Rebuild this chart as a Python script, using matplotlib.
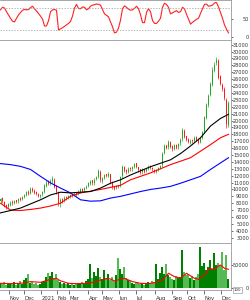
import numpy as np
import matplotlib.pyplot as plt

# gia theo phien (nghin dong), moi phan tu ~ 2-3 phien
open_ = [8.3,8.7,8.2,7.7,7.5,7.8,8.2,8.0,8.4,8.3, 8.7,8.6,8.9,9.2,9.7,9.5,10.1,9.8,9.6,9.4,
         9.0,9.3,9.7,10.5,11.1,10.9,11.2,11.4,10.5,9.7, 7.9,8.6,8.4,8.9,8.8,8.9,9.3,9.2,9.5,9.4,
         9.7,10.1,9.9,10.2,10.5,10.8,11.3,10.9,11.5,11.8, 12.6,11.2,11.7,12.2,12.0,12.2,11.1,10.4,10.2,10.6,
         10.5,11.9,13.2,12.8,12.6,13.1,12.9,13.3,13.8,13.2, 12.9,12.5,12.9,12.7,13.0,13.4,13.1,12.8,12.6,12.9,
         13.1,13.5,15.3,16.4,16.1,16.9,16.3,15.9,16.5,16.1, 16.7,17.3,18.5,17.7,17.3,16.8,17.2,17.1,17.6,17.3,
         16.9,17.5,18.4,20.4,22.2,23.7,25.2,27.2,28.3,28.7, 26.4,25.2,24.6,23.0,19.3]
close = [8.6,8.3,7.6,7.4,7.9,8.1,8.0,8.3,8.2,8.6, 8.5,8.9,9.2,9.6,9.4,10.0,9.8,9.5,9.4,9.1,
         9.2,9.6,10.6,11.0,10.8,11.2,11.5,10.4,9.6,8.0, 8.5,8.3,8.8,8.7,9.0,9.2,9.1,9.4,9.3,9.7,
         10.0,9.8,10.2,10.4,10.9,11.2,10.9,11.4,11.8,12.7, 11.3,11.6,12.1,12.0,12.3,11.0,10.3,10.1,10.5,10.4,
         11.8,13.3,12.7,12.5,13.0,12.9,13.2,13.7,13.3,12.8, 12.4,12.9,12.6,12.9,13.3,13.1,12.9,12.6,12.8,13.1,
         13.4,15.2,16.3,16.0,16.9,16.2,15.8,16.4,16.0,16.6, 17.2,18.6,17.6,17.2,16.9,17.1,17.0,17.5,17.2,16.8,
         17.4,18.3,20.5,22.3,23.6,25.3,27.3,28.1,28.8,26.2, 25.3,24.5,23.2,19.5,22.6]
high = [8.8,8.9,8.3,7.9,8.1,8.3,8.4,8.5,8.5,8.8, 8.9,9.1,9.4,9.8,9.9,10.3,10.3,10.0,9.8,9.5,
        9.4,9.8,10.8,11.3,11.3,11.5,11.9,11.6,10.7,9.8, 8.8,8.7,9.0,9.0,9.2,9.4,9.4,9.6,9.6,9.9,
        10.2,10.2,10.4,10.6,11.1,11.4,11.4,11.6,12.0,13.0, 12.8,11.8,12.3,12.3,12.5,12.3,11.2,10.5,10.7,10.7,
        12.0,13.5,13.4,12.9,13.2,13.2,13.4,13.9,13.9,13.3, 13.0,13.1,13.0,13.1,13.5,13.5,13.2,12.9,13.0,13.3,
        13.6,15.5,16.6,16.5,17.2,17.0,16.4,16.6,16.6,16.8, 17.4,18.9,18.7,17.8,17.4,17.3,17.3,17.7,17.7,17.4,
        17.6,18.5,20.7,22.6,23.9,25.6,27.7,28.5,29.2,28.9, 26.6,25.4,24.8,23.2,22.9]
low = [8.1,8.1,7.4,7.1,7.3,7.6,7.8,7.9,8.0,8.1, 8.3,8.4,8.7,9.0,9.2,9.3,9.6,9.3,9.2,8.9,
       8.8,9.1,9.5,10.3,10.6,10.7,11.0,10.2,9.4,7.6, 7.4,8.1,8.2,8.5,8.6,8.7,8.9,9.0,9.1,9.2,
       9.5,9.6,9.7,10.0,10.3,10.6,10.7,10.7,11.3,11.6, 11.1,11.0,11.5,11.8,11.8,10.8,10.1,9.9,10.0,10.2,
       10.3,11.7,12.5,12.3,12.4,12.7,12.7,13.1,13.1,12.6, 12.2,12.3,12.4,12.5,12.8,12.9,12.7,12.4,12.4,12.7,
       12.9,13.3,15.1,15.8,15.9,16.0,15.6,15.7,15.8,15.9, 16.5,17.1,17.4,17.0,16.7,16.6,16.8,16.9,17.0,16.6,
       16.7,17.3,18.2,20.2,22.0,23.5,25.0,27.0,28.1,26.0, 25.1,24.3,23.0,18.9,19.1]

# khoi luong (nghin cp)
volume = [12,9,14,8,11,10,9,13,8,12, 15,10,18,22,30,12,14,9,11,8,
          10,13,16,24,32,26,34,22,30,18, 14,10,12,9,11,8,10,7,9,12,
          10,14,11,16,20,53,22,35,26,43, 25,20,39,22,30,18,25,16,28,64,
          42,30,45,22,18,15,12,10,14,11, 9,12,8,10,14,11,16,13,53,20,
          33,45,30,52,28,25,20,18,26,22, 24,82,35,28,30,22,26,18,25,30,
          89,48,55,40,45,60,42,76,50,55, 48,78,40,72,20]

rsi = [75,82,80,70,61,52,44,42,52,61, 68,74,76,75,76,81,85,78,72,65,
       58,50,31,31,45,70,75,76,74,20, 23,26,30,34,38,43,58,80,90,79,
       78,83,82,75,78,85,88,89,91,90, 88,76,64,60,56,42,29,12,14,25,
       47,78,86,82,77,74,75,79,85,78, 62,40,40,68,78,70,46,38,38,44,
       52,82,93,90,82,64,67,70,73,68, 70,82,78,63,50,36,41,45,49,52,
       65,78,90,91,85,86,88,94,95,83, 68,52,34,22,12]

# duong trung binh (doc tai mot so phien)
ma_idx = [0,5,10,15,20,25,30,35,40,45,50,55,60,65,70,75,80,85,90,95,100,105,110,114]
ma_black = [6.6,6.95,7.3,7.9,8.5,9.2,9.6,9.5,9.6,9.7,10.2,10.9,11.4,12.1,12.7,13.3,13.8,14.3,15.2,16.3,17.5,19.2,20.3,20.9]
ma_red = [8.0,7.0,6.95,7.1,7.3,7.6,8.0,9.0,9.5,9.75,10.0,10.3,10.6,11.4,11.9,12.4,13.0,13.6,14.1,14.6,15.55,16.5,17.5,18.0]
ma_blue = [13.75,13.6,13.35,12.9,11.9,10.95,10.2,9.5,8.5,8.3,8.35,8.75,9.0,9.35,9.7,10.0,10.2,10.45,10.9,11.4,11.9,12.9,13.85,14.6]

vma_idx = [0,5,10,15,20,24,28,30,34,38,44,48,50,54,57,62,66,70,74,78,81,84,87,90,93,97,99,103,104,107,109,110,112,114]
vma = [10.7,10.0,10.7,14.3,12.9,17.8,21.4,16.0,10.7,10.0,10.7,14.3,17.8,21.4,16.0,21.4,14.3,10.7,10.0,12.9,17.8,32.2,25.0,21.4,32.2,21.4,19.3,32.2,42.9,40.7,47.8,50.0,42.9,40.7]

month_pos = [4.5, 12, 20.5, 28.5, 34.5, 44, 51, 59.5, 68, 77.5, 86, 93.5, 102, 110.5]
month_lbl = ['Nov', 'Dec', '2021', 'Feb', 'Mar', 'Apr', 'May', 'Jun', 'Jul', 'Aug', 'Sep', 'Oct', 'Nov', 'Dec']

o = np.array(open_) * 1000
c = np.array(close) * 1000
h = np.array(high) * 1000
l = np.array(low) * 1000
x = np.arange(len(c))
up = c >= o

fig = plt.figure(figsize=(2.51, 3.0), dpi=100)
W = 231 / 251
ax_r = fig.add_axes([0, 0.8667, W, 0.1333])
ax_p = fig.add_axes([0, 0.19, W, 0.6767])
ax_v = fig.add_axes([0, 1 - 290 / 300, W, 0.19 - (1 - 290 / 300)])

for ax in (ax_r, ax_p, ax_v):
    ax.set_xlim(-0.25, len(c) + 0.25)
    ax.yaxis.tick_right()
    ax.tick_params(axis='y', labelsize=3.6, length=1.5, width=0.5, colors='#333333', pad=11.5)
    for t in ax.get_yticklabels():
        t.set_horizontalalignment('right')
    for s in ax.spines.values():
        s.set_color('#999999')
        s.set_linewidth(0.6)
    ax.spines['left'].set_visible(False)

# RSI
ax_r.plot(x, rsi, color='#ff2020', lw=0.8)
ax_r.axhline(80, color='#999999', lw=0.5, ls=(0, (2, 2)))
ax_r.axhline(20, color='#999999', lw=0.5, ls=(0, (2, 2)))
ax_r.set_ylim(-7.4, 102)
ax_r.set_yticks([0, 50])
ax_r.set_xticks([])

# gia
green = '#22aa22'
red = '#ff1a1a'
cols = np.where(up, green, red)
ax_p.vlines(x, l, h, colors=cols, lw=0.5)
body = np.maximum(np.abs(c - o), 60)
ax_p.bar(x, body, bottom=np.minimum(o, c), width=0.5, color=cols, linewidth=0)
ax_p.plot(ma_idx, np.array(ma_blue) * 1000, color='#0000ff', lw=0.8)
ax_p.plot(ma_idx, np.array(ma_red) * 1000, color='#ff0000', lw=0.8)
ax_p.plot(ma_idx, np.array(ma_black) * 1000, color='black', lw=0.8)
ax_p.set_ylim(2233, 31680)
ax_p.set_yticks(range(3000, 32000, 1000))
ax_p.set_xticks([])

# khoi luong
vcols = np.where(up, '#008000', '#55bb55')
ax_v.bar(x, np.array(volume) * 1000, width=1.0, color=vcols, linewidth=0)
ax_v.plot(vma_idx, np.array(vma) * 1000, color='#ff0000', lw=0.8)
ax_v.set_ylim(-3650, 97200)
ax_v.set_yticks([0, 50000])
ax_v.set_yticklabels(['0', '50000'], ha='right')
ax_v.set_xticks(month_pos)
ax_v.set_xticklabels(month_lbl, ha='left')
ax_v.tick_params(axis='x', labelsize=3.8, length=3, width=0.5, colors='#333333', pad=1)
ax_v.text(1.01, 0.0, '100', transform=ax_v.transAxes, fontsize=2.8, va='center', ha='left',
          color='#333333', bbox=dict(boxstyle='square,pad=0.2', fc='white', ec='#888888', lw=0.4))

fig.savefig('out.png', dpi=100)
